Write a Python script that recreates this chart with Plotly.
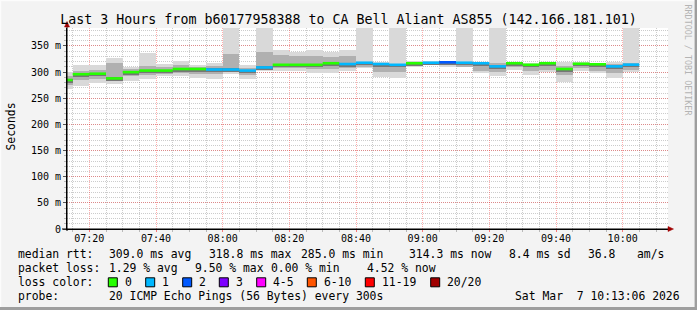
import plotly.graph_objects as go
from datetime import datetime, timedelta

# ---------------- data ----------------
day = "2026-03-07"
interval_end = ["07:15", "07:20", "07:25", "07:30", "07:35", "07:40", "07:45", "07:50",
                "07:55", "08:00", "08:05", "08:10", "08:15", "08:20", "08:25", "08:30",
                "08:35", "08:40", "08:45", "08:50", "08:55", "09:00", "09:05", "09:10",
                "09:15", "09:20", "09:25", "09:30", "09:35", "09:40", "09:45", "09:50",
                "09:55", "10:00", "10:05"]
median_ms = [285, 296, 297, 288, 300, 303, 303, 306,
             306, 305, 305, 303, 309, 314, 314, 314,
             317, 315.5, 318, 315.5, 314, 317, 318, 318.8,
             318, 317, 311, 317, 314, 317, 306, 316,
             315, 311, 314.3]
loss_count = [0, 0, 0, 0, 0, 0, 0, 0,
              0, 1, 1, 1, 1, 0, 0, 0,
              0, 1, 1, 1, 1, 0, 1, 2,
              1, 1, 1, 0, 0, 0, 0, 0,
              0, 1, 1]
smoke_lo = [268, 273, 279, 278, 284, 286, 292, 292,
            289, 286, 297, 286, 303, 303, 303, 298,
            298, 303, 307, 291, 289, 310, 313, 310,
            310, 298, 292, 305, 294, 300, 282, 303,
            298, 289, 300]
smoke_hi = [300, 313, 313, 327, 310, 337, 316, 321,
            313, 317, 400, 313, 400, 342, 338, 342,
            338, 343, 400, 319, 400, 321, 322, 322,
            400, 319, 400, 319, 318, 319, 319, 319,
            318, 319, 400]
mid_lo = [275, 285, 287, 284, 292, 294, 297, 298,
          297, 296, 300, 294, 305, 308, 308, 306,
          306, 308, 309, 300, 300, 312, 314, 313,
          310, 303, 300, 309, 302, 305, 295, 308,
          303, 298, 305]
mid_hi = [292, 303, 304, 317, 306, 311, 310, 314,
          310, 312, 335, 308, 338, 333, 330, 330,
          328, 330, 320, 316, 316, 319, 320, 320,
          320, 316, 317, 317, 314, 316, 312, 316,
          314, 315, 318]

loss_labels = ["0", "1", "2", "3", "4-5", "6-10", "11-19", "20/20"]
loss_colors = ["#26ff00", "#00b8ff", "#0059ff", "#7e00ff", "#ff00ff", "#ff5500", "#ff0000", "#a00000"]

y_tick_vals = [0, 50, 100, 150, 200, 250, 300, 350]
y_tick_text = ["0", "50 m", "100 m", "150 m", "200 m", "250 m", "300 m", "350 m"]

title_text = "Last 3 Hours from b60177958388 to CA Bell Aliant AS855 (142.166.181.101)"
row_rtt = [("median rtt:", 16), ("309.0 ms avg", 107.3), ("318.8 ms max", 207.3),
           ("285.0 ms min", 299.3), ("314.3 ms now", 407.3), ("8.4 ms sd", 507.3),
           ("36.8", 586), ("am/s", 635.3)]
row_loss = [("packet loss:", 16), ("1.29 % avg", 107.3), ("9.50 % max", 193.3),
            ("0.00 % min", 269.3), ("4.52 % now", 364.7)]
loss_box_x = [108.3, 145.7, 182.7, 219.3, 256.7, 307.3, 365.3, 430.7]
row_probe = [("probe:", 16), ("20 ICMP Echo Pings (56 Bytes) every 300s", 107.3),
             ("Sat Mar  7 10:13:06 2026", 513.3)]

# ---------------- geometry ----------------
W, H = 697, 310
ML, MR, MT, MB = 67, 29, 28, 81
PW, PH = W - ML - MR, H - MT - MB
MONO = "DejaVu Sans Mono"


def px(x):
    return (x - ML) / PW


def py(y):
    return (H - MB - y) / PH


step = timedelta(minutes=5)
ends = [datetime.strptime(day + " " + t, "%Y-%m-%d %H:%M") for t in interval_end]
starts = [e - step for e in ends]
centers = [e - step / 2 for e in ends]
x_start = datetime.strptime(day + " 07:13:18", "%Y-%m-%d %H:%M:%S")
x_end = x_start + timedelta(minutes=PW / (1000 / 300))

fig = go.Figure()

# smoke: outer band
fig.add_trace(go.Bar(x=centers, base=smoke_lo, y=[h - l for h, l in zip(smoke_hi, smoke_lo)],
                     width=300000, marker=dict(color="#d9d9d9", line=dict(width=0)),
                     hoverinfo="skip", showlegend=False))
# mid band
fig.add_trace(go.Bar(x=centers, base=mid_lo, y=[h - l for h, l in zip(mid_hi, mid_lo)],
                     width=300000, marker=dict(color="#b0b0b0", line=dict(width=0)),
                     hoverinfo="skip", showlegend=False))
# dark core around median
fig.add_trace(go.Bar(x=centers, base=[m - 5 for m in median_ms], y=[7] * len(median_ms),
                     width=300000, marker=dict(color="#767676", line=dict(width=0)),
                     hoverinfo="skip", showlegend=False))

# median line coloured by loss
for k in sorted(set(loss_count)):
    xs, ys = [], []
    for s, e, m, l in zip(starts, ends, median_ms, loss_count):
        if l == k:
            xs += [s, e, None]
            ys += [m, m, None]
    fig.add_trace(go.Scatter(x=xs, y=ys, mode="lines",
                             line=dict(color=loss_colors[k], width=2.6),
                             hoverinfo="skip", showlegend=False))

fig.update_layout(
    width=W, height=H,
    margin=dict(l=ML, r=MR, t=MT, b=MB, pad=0),
    paper_bgcolor="#f3f3f3", plot_bgcolor="#ffffff",
    barmode="overlay", bargap=0,
    showlegend=False,
    font=dict(family=MONO, color="#000000", size=10),
    title=dict(text=title_text, x=0.5, xanchor="center", y=1 - 19 / H, yanchor="middle",
               font=dict(family=MONO, size=13.3, color="#000000")),
)

fig.update_xaxes(
    type="date", range=[x_start, x_end],
    tick0=day + " 07:00", dtick=1200000, tickformat="%H:%M",
    showgrid=True, gridcolor="rgba(255,0,0,0.32)", griddash="1px,1px", gridwidth=1,
    showline=True, linecolor="#000000", linewidth=1,
    ticks="outside", ticklen=2, tickcolor="rgba(255,0,0,0.5)",
    ticklabelstandoff=-2,
    tickfont=dict(family=MONO, size=10, color="#000000"),
    minor=dict(dtick=300000, tick0=day + " 07:00", showgrid=True,
               gridcolor="rgba(128,128,128,0.4)", griddash="1px,1px", ticks="outside",
               ticklen=2, tickcolor="rgba(128,128,128,0.5)"),
    zeroline=False, fixedrange=True,
)
fig.update_yaxes(
    range=[0, 384.4],
    tickvals=y_tick_vals, ticktext=y_tick_text,
    showgrid=True, gridcolor="rgba(255,0,0,0.32)", griddash="1px,1px", gridwidth=1,
    showline=True, linecolor="#000000", linewidth=1,
    ticks="outside", ticklen=3, tickcolor="#555555",
    tickfont=dict(family=MONO, size=10, color="#000000"),
    minor=dict(dtick=10, tick0=0, showgrid=True, gridcolor="rgba(128,128,128,0.4)",
               griddash="1px,1px", ticks="outside", ticklen=2, tickcolor="rgba(128,128,128,0.5)"),
    zeroline=False, fixedrange=True,
)

shapes = []
# axis extensions and arrows
shapes.append(dict(type="line", xref="paper", yref="paper", x0=px(67), x1=px(67),
                   y0=py(231), y1=py(24), line=dict(color="#000000", width=1)))
shapes.append(dict(type="line", xref="paper", yref="paper", x0=px(62), x1=px(670),
                   y0=py(229), y1=py(229), line=dict(color="#000000", width=1)))
shapes.append(dict(type="path", xref="paper", yref="paper",
                   path=f"M {px(64.5)} {py(27)} L {px(69.5)} {py(27)} L {px(67)} {py(21.5)} Z",
                   fillcolor="#a00000", line=dict(color="#a00000", width=0.5)))
shapes.append(dict(type="path", xref="paper", yref="paper",
                   path=f"M {px(668)} {py(226.5)} L {px(668)} {py(231.5)} L {px(673.5)} {py(229)} Z",
                   fillcolor="#a00000", line=dict(color="#a00000", width=0.5)))
# 3D frame
shapes.append(dict(type="line", xref="paper", yref="paper", x0=px(0), x1=px(W),
                   y0=py(0.5), y1=py(0.5), line=dict(color="#fcfcfc", width=1.5)))
shapes.append(dict(type="line", xref="paper", yref="paper", x0=px(0.5), x1=px(0.5),
                   y0=py(0), y1=py(H), line=dict(color="#fcfcfc", width=1.5)))
shapes.append(dict(type="line", xref="paper", yref="paper", x0=px(0), x1=px(W),
                   y0=py(H - 1.5), y1=py(H - 1.5), line=dict(color="#9e9e9e", width=3)))
shapes.append(dict(type="line", xref="paper", yref="paper", x0=px(W - 1.2), x1=px(W - 1.2),
                   y0=py(0), y1=py(H), line=dict(color="#9e9e9e", width=2.4)))
# loss colour boxes
for bx, col in zip(loss_box_x, loss_colors):
    shapes.append(dict(type="rect", xref="paper", yref="paper",
                       x0=px(bx), x1=px(bx + 9), y0=py(286.8), y1=py(277.8),
                       fillcolor=col, line=dict(color="#000000", width=1)))
fig.update_layout(shapes=shapes)

annotations = []
LEG = dict(family=MONO, size=11.4, color="#000000")


def add_text(text, x, y, font=LEG, **kw):
    annotations.append(dict(text=text.replace(" ", "\u00a0"), x=px(x), y=py(y),
                            xref="paper", yref="paper", xanchor="left", yanchor="middle",
                            showarrow=False, font=font, **kw))


for t, x in row_rtt:
    add_text(t, x, 254.3)
for t, x in row_loss:
    add_text(t, x, 268.3)
add_text("loss color:", 16, 282.3)
for bx, lab in zip(loss_box_x, loss_labels):
    add_text(lab, bx + 14.5, 282.3)
for t, x in row_probe:
    add_text(t, x, 296.3)

# y-axis title
annotations.append(dict(text="Seconds", x=px(10.5), y=py(127), xref="paper", yref="paper",
                        xanchor="center", yanchor="middle", textangle=-90, showarrow=False,
                        font=dict(family=MONO, size=11.4, color="#000000")))
# watermark
annotations.append(dict(text="RRDTOOL / TOBI OETIKER", x=px(687.5), y=py(60), xref="paper",
                        yref="paper", xanchor="center", yanchor="middle", textangle=90,
                        showarrow=False, font=dict(family=MONO, size=8.4, color="#b4b4b4")))
fig.update_layout(annotations=annotations)

fig.write_html("out.html", config={"displayModeBar": False})
